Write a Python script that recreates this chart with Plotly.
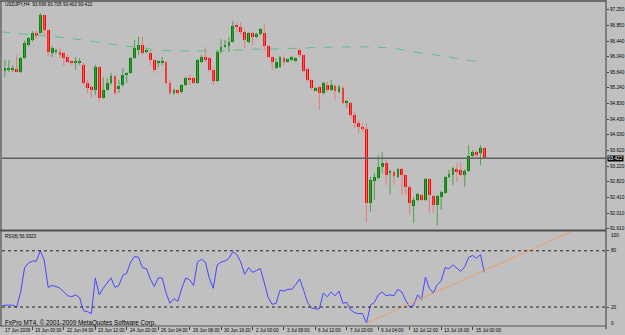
import plotly.graph_objects as go

# ---------------- data ----------------
title_text = "USDJPY,H4  93.696 93.705 93.402 93.422"
rsi_title = "RSI(8) 56.9323"
copyright_text = "FxPro MT4, © 2001-2009 MetaQuotes Software Corp."

opens = [96.13, 95.67, 95.70, 95.70, 95.72, 95.64, 96.00, 96.34, 96.47, 96.65,
         96.65, 97.11, 96.73, 96.13, 96.16, 96.16, 96.13, 96.03, 95.93, 95.88,
         95.88, 95.83, 95.36, 95.26, 95.18, 95.77, 94.97, 95.18, 95.36, 95.54,
         95.23, 95.31, 95.57, 95.62, 96.00, 96.21, 96.34, 96.16, 96.13, 95.95,
         95.88, 95.90, 95.90, 95.36, 95.10, 95.18, 95.13, 95.31, 95.49, 95.49,
         95.36, 95.90, 96.03, 96.00, 95.70, 95.41, 96.16, 96.29, 96.31, 96.42,
         96.86, 96.80, 96.68, 96.42, 96.65, 96.57, 96.62, 96.65, 96.31, 96.03,
         95.75, 95.77, 96.00, 95.90, 95.95, 95.93, 96.21, 96.08, 95.72, 95.44,
         95.18, 95.26, 95.10, 95.31, 95.18, 95.28, 95.13, 95.23, 94.85, 94.85,
         94.54, 94.33, 94.23, 94.18, 92.27, 92.84, 92.91, 93.20, 93.30, 93.05,
         93.07, 92.94, 93.15, 92.99, 92.68, 92.19, 92.35, 92.48, 92.35, 92.89,
         92.45, 92.22, 92.42, 92.53, 92.94, 92.99, 93.15, 93.12, 92.99, 93.09,
         93.47, 93.58, 93.55, 93.696]
highs = [96.21, 95.95, 95.95, 95.82, 96.08, 96.03, 96.45, 96.55, 96.70, 96.70,
         97.17, 97.13, 96.75, 96.31, 96.24, 96.26, 96.16, 96.08, 95.95, 96.03,
         96.00, 95.88, 95.44, 95.31, 95.83, 95.80, 95.52, 95.49, 95.62, 95.57,
         95.44, 95.75, 95.64, 96.03, 96.47, 96.55, 96.55, 96.24, 96.21, 96.00,
         95.95, 96.03, 95.93, 95.44, 95.21, 95.21, 95.33, 95.52, 95.57, 95.52,
         95.98, 96.08, 96.29, 96.03, 95.72, 96.18, 96.49, 96.47, 96.55, 96.96,
         96.93, 96.93, 96.73, 96.68, 96.68, 96.66, 96.78, 96.86, 96.34, 96.05,
         96.00, 96.05, 96.08, 96.00, 96.05, 96.03, 96.26, 96.10, 95.75, 95.46,
         95.26, 95.28, 95.39, 95.39, 95.44, 95.33, 95.31, 95.28, 94.92, 94.87,
         94.61, 94.41, 94.33, 94.33, 92.94, 93.04, 93.50, 93.58, 93.38, 93.12,
         93.12, 93.18, 93.17, 93.00, 92.71, 92.42, 92.53, 92.50, 92.91, 92.91,
         92.48, 92.48, 92.58, 92.97, 93.12, 93.20, 93.30, 93.32, 93.14, 93.76,
         93.63, 93.62, 93.76, 93.705]
lows = [95.64, 95.52, 95.64, 95.65, 95.63, 95.62, 95.98, 96.30, 96.43, 96.50,
        96.63, 96.60, 96.03, 96.03, 96.10, 96.00, 95.80, 95.88, 95.82, 95.70,
        95.83, 95.31, 95.10, 94.97, 95.05, 94.87, 94.95, 95.16, 95.31, 95.05,
        95.10, 95.26, 95.36, 95.60, 95.98, 96.08, 96.08, 96.13, 95.82, 95.62,
        95.77, 95.82, 95.33, 95.05, 95.05, 95.05, 95.10, 95.28, 95.31, 95.33,
        95.33, 95.88, 95.90, 95.64, 95.31, 95.39, 96.13, 96.26, 96.16, 96.40,
        96.68, 96.60, 96.26, 96.39, 96.34, 96.52, 96.60, 96.21, 96.00, 95.70,
        95.72, 95.75, 95.82, 95.88, 95.93, 95.90, 96.03, 95.64, 95.39, 95.18,
        95.15, 94.67, 95.05, 95.13, 95.15, 94.92, 95.10, 94.82, 94.72, 94.46,
        94.20, 94.07, 94.10, 91.78, 92.04, 92.35, 92.89, 93.04, 92.73, 92.48,
        92.73, 92.91, 92.48, 92.48, 91.96, 91.75, 92.32, 92.32, 92.32, 92.01,
        92.01, 91.70, 92.09, 92.50, 92.91, 92.73, 92.81, 92.97, 92.68, 93.07,
        93.45, 93.43, 93.25, 93.402]
closes = [95.70, 95.75, 95.72, 95.71, 95.65, 96.00, 96.39, 96.52, 96.65, 96.57,
          97.11, 96.73, 96.16, 96.26, 96.18, 96.08, 96.01, 95.90, 95.88, 95.91,
          95.90, 95.36, 95.23, 95.18, 95.77, 94.97, 95.18, 95.36, 95.54, 95.10,
          95.28, 95.57, 95.62, 96.00, 96.26, 96.34, 96.13, 96.21, 95.95, 95.70,
          95.91, 95.92, 95.36, 95.10, 95.18, 95.10, 95.31, 95.49, 95.44, 95.36,
          95.95, 96.03, 95.95, 95.70, 95.41, 96.16, 96.29, 96.34, 96.42, 96.83,
          96.80, 96.68, 96.47, 96.65, 96.55, 96.62, 96.75, 96.31, 96.03, 95.90,
          95.90, 96.03, 95.90, 95.98, 96.03, 96.00, 96.08, 95.67, 95.44, 95.23,
          95.23, 95.10, 95.36, 95.18, 95.31, 95.15, 95.26, 94.85, 94.87, 94.54,
          94.33, 94.23, 94.18, 92.27, 92.86, 92.94, 93.20, 93.30, 92.99, 93.07,
          92.97, 93.15, 92.99, 92.68, 92.27, 92.35, 92.50, 92.35, 92.89, 92.48,
          92.22, 92.45, 92.55, 92.94, 93.02, 93.17, 93.07, 92.99, 93.10, 93.48,
          93.58, 93.53, 93.69, 93.422]

# moving average (dashed) read at selected bars
ma_bars = [0, 8, 16, 22, 26, 30, 36, 40, 46, 52, 58, 64, 70, 76, 82, 88, 94,
           100, 106, 110, 114, 118, 122]
ma_vals = [96.68, 96.60, 96.53, 96.45, 96.40, 96.33, 96.27, 96.21, 96.19, 96.19,
           96.20, 96.23, 96.24, 96.26, 96.28, 96.29, 96.29, 96.25, 96.15, 96.09,
           96.03, 95.96, 95.91]

rsi_vals = [21, 22, 22, 22, 20, 36, 62, 67, 69, 69,
            80, 70, 41, 43, 42, 40, 36, 32, 31, 33,
            30, 16, 15, 13, 51, 33, 40, 46, 51, 41,
            43, 54, 56, 68, 74, 73, 62, 61, 50, 42,
            51, 51, 35, 24, 29, 26, 40, 51, 49, 43,
            68, 71, 68, 51, 40, 65, 68, 69, 72, 79,
            76, 68, 55, 62, 57, 59, 61, 46, 30, 23,
            24, 38, 37, 39, 39, 44, 50, 38, 25, 19,
            18, 18, 35, 31, 36, 32, 37, 24, 25, 17,
            14, 13, 13, 3, 22, 25, 33, 36, 32, 33,
            32, 39, 36, 27, 20, 22, 33, 28, 52, 40,
            35, 44, 48, 62, 61, 65, 61, 58, 63, 73,
            75, 72, 76, 56.93]

trend_bars = [93, 145.5]
trend_vals = [3, 101]

price_ticks = [97.250, 96.850, 96.440, 96.040, 95.640, 95.240, 94.830, 94.430,
               94.030, 93.620, 93.220, 92.820, 92.410, 92.010, 91.610]
last_price = 93.422
rsi_levels = [80, 20]
rsi_label_text = ["100", "80", "20", "0"]
rsi_label_pos = [96.8, 80, 20, 3]

time_bars = [0, 8, 16, 24, 32, 40, 48, 56, 64, 72, 80, 88, 96, 104, 112, 120]
time_labels = ["17 Jun 2009", "19 Jun 00:00", "22 Jun 04:00", "23 Jun 12:00",
               "24 Jun 20:00", "26 Jun 04:00", "29 Jun 08:00", "30 Jun 16:00",
               "2 Jul 00:00", "3 Jul 08:00", "6 Jul 12:00", "7 Jul 20:00",
               "9 Jul 04:00", "10 Jul 12:00", "13 Jul 16:00", "15 Jul 00:00"]

# ---------------- styling ----------------
BG = "#C0C0C0"
UP = "#008000"
DOWN = "#FF0000"
UP_WICK = "#4E9E4E"
DOWN_WICK = "#E87878"
FONT = "Liberation Sans"

n = len(opens)
idx = list(range(n))

up_x, up_base, up_h = [], [], []
dn_x, dn_base, dn_h = [], [], []
wu_x, wu_y, wd_x, wd_y = [], [], [], []
for i in idx:
    o, h, l, c = opens[i], highs[i], lows[i], closes[i]
    body = max(abs(c - o), 0.03)
    if c >= o:
        up_x.append(i); up_base.append(min(o, c)); up_h.append(body)
        wu_x += [i, i, None]; wu_y += [l, h, None]
    else:
        dn_x.append(i); dn_base.append(min(o, c)); dn_h.append(body)
        wd_x += [i, i, None]; wd_y += [l, h, None]

fig = go.Figure()
fig.add_trace(go.Scatter(x=wu_x, y=wu_y, mode="lines", line=dict(color=UP_WICK, width=1),
                         hoverinfo="skip", showlegend=False))
fig.add_trace(go.Scatter(x=wd_x, y=wd_y, mode="lines", line=dict(color=DOWN_WICK, width=1),
                         hoverinfo="skip", showlegend=False))
fig.add_trace(go.Bar(x=up_x, y=up_h, base=up_base, width=0.72,
                     marker=dict(color=UP, line=dict(width=0)), showlegend=False))
fig.add_trace(go.Bar(x=dn_x, y=dn_h, base=dn_base, width=0.72,
                     marker=dict(color=DOWN, line=dict(width=0)), showlegend=False))
fig.add_trace(go.Scatter(x=ma_bars, y=ma_vals, mode="lines",
                         line=dict(color="#5EBF8E", width=1, dash="dash", shape="spline"),
                         showlegend=False))

fig.add_trace(go.Scatter(x=idx, y=rsi_vals, mode="lines", yaxis="y2",
                         line=dict(color="#4646FF", width=1), showlegend=False))
fig.add_trace(go.Scatter(x=trend_bars, y=trend_vals, mode="lines", yaxis="y2",
                         line=dict(color="#E8A06A", width=1), showlegend=False,
                         cliponaxis=True))

PX_PER_BAR = 3.93
x0 = (2 - 1) / PX_PER_BAR
x1 = (606 - 1) / PX_PER_BAR

shapes = [
    dict(type="line", xref="paper", yref="y", x0=0, x1=1, y0=last_price, y1=last_price,
         line=dict(color="#606060", width=1.3)),
]
for lv in rsi_levels:
    shapes.append(dict(type="line", xref="paper", yref="y2", x0=0, x1=1, y0=lv, y1=lv,
                       line=dict(color="#202020", width=1, dash="dot")))
# frame lines
shapes += [
    dict(type="line", xref="paper", yref="paper", x0=-0.003, x1=1, y0=1, y1=1,
         line=dict(color="#505050", width=1.5)),
    dict(type="line", xref="paper", yref="paper", x0=-0.0017, x1=-0.0017, y0=0, y1=1,
         line=dict(color="#505050", width=1.2)),
    dict(type="line", xref="paper", yref="paper", x0=-0.003, x1=1, y0=0.2938, y1=0.2938,
         line=dict(color="#505050", width=2)),
    dict(type="line", xref="paper", yref="paper", x0=-0.003, x1=1, y0=0, y1=0,
         line=dict(color="#505050", width=1.2)),
    dict(type="line", xref="paper", yref="paper", x0=1, x1=1, y0=-0.01, y1=1.003,
         line=dict(color="#505050", width=1.2)),
]

ann = [
    dict(text=title_text, xref="paper", yref="paper", x=0.002, y=0.988,
         xanchor="left", yanchor="middle", showarrow=False,
         font=dict(family=FONT, size=4.6, color="black")),
    dict(text=rsi_title, xref="paper", yref="paper", x=0.002, y=0.274,
         xanchor="left", yanchor="middle", showarrow=False,
         font=dict(family=FONT, size=4.6, color="black")),
    dict(text=copyright_text, xref="paper", yref="paper", x=0.002, y=0.009,
         xanchor="left", yanchor="middle", showarrow=False,
         font=dict(family=FONT, size=6.3, color="black")),
    dict(text=f"{last_price:.3f}", xref="paper", yref="y", x=1, y=last_price,
         xanchor="left", yanchor="middle", xshift=1, showarrow=False, bgcolor="black",
         borderpad=0, font=dict(family=FONT, size=4.7, color="white")),
]
for t, p in zip(rsi_label_text, rsi_label_pos):
    ann.append(dict(text=t, xref="paper", yref="y2", x=1, y=p, xanchor="left",
                    yanchor="middle", xshift=3, showarrow=False,
                    font=dict(family=FONT, size=4.7, color="black")))
for b, t in zip(time_bars, time_labels):
    ann.append(dict(text=t, xref="x", yref="paper", x=max(b, x0), y=0, xanchor="left",
                    yanchor="middle", yshift=-4.5, xshift=1, showarrow=False,
                    font=dict(family=FONT, size=4.6, color="black")))

fig.update_layout(
    template="none",
    width=625, height=335,
    margin=dict(l=2, r=19, t=1, b=9, pad=0),
    paper_bgcolor=BG, plot_bgcolor=BG,
    barmode="overlay", bargap=0,
    showlegend=False,
    shapes=shapes, annotations=ann,
    xaxis=dict(range=[x0, x1], anchor="y2", showgrid=False, zeroline=False,
               showline=False, tickvals=time_bars, ticks="outside", ticklen=3,
               tickcolor="#404040", showticklabels=False, fixedrange=True),
    yaxis=dict(domain=[0.2954, 1], range=[91.573, 97.474], side="right",
               showgrid=False, zeroline=False, showline=False,
               tickvals=price_ticks, ticktext=[f"{v:.3f}" for v in price_ticks],
               ticks="outside", ticklen=2, tickcolor="#404040",
               tickfont=dict(family=FONT, size=4.7, color="black")),
    yaxis2=dict(domain=[0, 0.2923], range=[-0.2, 101.1], side="right",
                showgrid=False, zeroline=False, showline=False,
                tickvals=rsi_levels, ticks="outside", ticklen=2, tickcolor="#404040",
                showticklabels=False),
)

fig.write_html("out.html")
